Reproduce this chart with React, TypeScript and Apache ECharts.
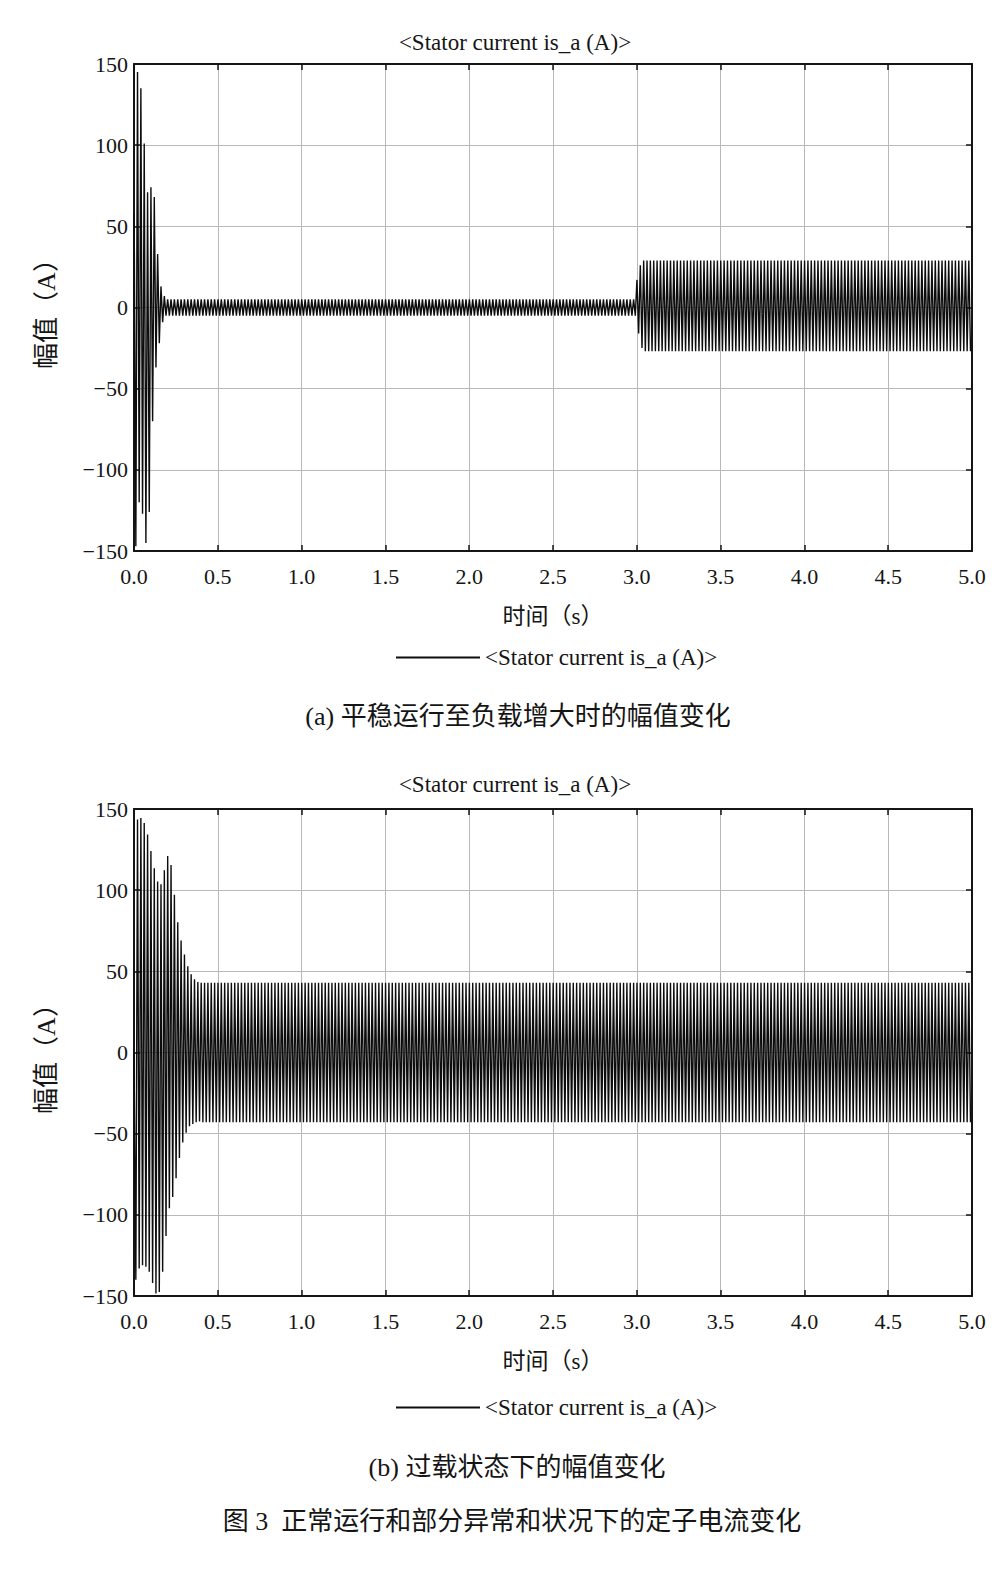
import React, { useEffect, useRef } from 'react';
import * as echarts from 'echarts';

// ---------------- data ----------------
const seriesName = '<Stator current is_a (A)>';
const chartTitle = '<Stator current is_a (A)>';
const xAxisName = '时间（s）';
const yAxisName = '幅值（A）';
const captionA = '(a) 平稳运行至负载增大时的幅值变化';
const captionB = '(b) 过载状态下的幅值变化';
const figureCaption = '图 3  正常运行和部分异常和状况下的定子电流变化';

const xRange = [0, 5];
const xStep = 0.5;
const yRange = [-150, 150];
const yStep = 50;

// time between successive extrema (50 Hz current -> 0.01 s between peak and trough)
const halfPeriod = 0.01;

// (a) start-up transient: successive extrema (A), first one at transientAStart (s)
const transientAStart = 0.001;
const transientA = [58, -147, 145, -120, 135, -127, 101, -145, 71, -126, 74, -70, 68, -37, 33, -22, 13, -9, 7];
// (a) steady no-load level until the load step
const steadyA1 = { until: 3.0, peak: 5, trough: -5 };
// (a) load step at 3.0 s: first extrema after the step
const stepA = [17, -16, 26, -25];
// (a) steady loaded level
const steadyA2 = { until: 5.0, peak: 29, trough: -27 };

// (b) overload start-up transient: successive extrema (A)
const transientBStart = 0.011;
const transientB = [
  -140, 143.5, -133, 144.5, -131, 141.4, -132, 134.3, -135, 124.1, -142, 113.5, -148.5, 105.3,
  -147.5, 103.7, -135, 112.2, -113, 121, -96, 115.5, -89, 97.1, -77.5, 80.2, -65, 69, -55.5, 60.4,
  -49.5, 53.1, -45.5, 48.2, -44, 45.1, -43, 43.5, -42.5, 43,
];
const steadyB = { until: 5.0, peak: 43, trough: -43 };

// ---------------- build the line data from the arrays ----------------
type Level = { until: number; peak: number; trough: number };
function buildWave(start: number, parts: (number[] | Level)[]): number[][] {
  const pts: number[][] = [[0, 0]];
  let i = 0;
  let lastPositive = false;
  const tAt = (k: number) => +(start + k * halfPeriod).toFixed(4);
  for (const part of parts) {
    if (Array.isArray(part)) {
      for (const v of part) {
        pts.push([tAt(i), v]);
        lastPositive = v > 0;
        i++;
      }
    } else {
      while (tAt(i) <= part.until) {
        const v = lastPositive ? part.trough : part.peak;
        pts.push([tAt(i), v]);
        lastPositive = !lastPositive;
        i++;
      }
    }
  }
  return pts;
}

const waveA = buildWave(transientAStart, [transientA, steadyA1, stepA, steadyA2]);
const waveB = buildWave(transientBStart, [transientB, steadyB]);

// ---------------- styles ----------------
const serif = '"Liberation Serif", "Times New Roman", serif';
const mixed = '"Liberation Serif", "Noto Sans CJK SC", serif';
const ink = '#151515';
const waveColor = '#0d0d0d';

function axesFor(gridIndex: number) {
  const frame = { show: true, onZero: false, lineStyle: { color: ink, width: 2 } };
  const tick = { show: true, inside: true, length: 6, lineStyle: { color: ink, width: 1.5 } };
  const xs = [
    {
      type: 'value', gridIndex, min: xRange[0], max: xRange[1], interval: xStep, position: 'bottom',
      axisLine: frame, axisTick: tick,
      axisLabel: { formatter: (v: number) => v.toFixed(1), fontFamily: serif, fontSize: 22, color: ink, margin: 14 },
      splitLine: { show: true, lineStyle: { color: '#b8b8b8', width: 1 } },
      name: xAxisName, nameLocation: 'middle', nameGap: 54,
      nameTextStyle: { fontFamily: mixed, fontSize: 23, color: ink },
    },
    {
      type: 'value', gridIndex, min: xRange[0], max: xRange[1], interval: xStep, position: 'top',
      axisLine: frame, axisTick: tick, axisLabel: { show: false }, splitLine: { show: false },
    },
  ];
  const ys = [
    {
      type: 'value', gridIndex, min: yRange[0], max: yRange[1], interval: yStep, position: 'left',
      axisLine: frame, axisTick: tick,
      axisLabel: {
        formatter: (v: number) => (v < 0 ? '\u2212' + Math.abs(v) : String(v)),
        fontFamily: serif, fontSize: 22, color: ink, margin: 6,
      },
      splitLine: { show: true, lineStyle: { color: '#b8b8b8', width: 1 } },
      name: yAxisName, nameLocation: 'middle', nameGap: 75,
      nameTextStyle: { fontFamily: mixed, fontSize: 26, color: ink },
    },
    {
      type: 'value', gridIndex, min: yRange[0], max: yRange[1], interval: yStep, position: 'right',
      axisLine: frame, axisTick: tick, axisLabel: { show: false }, splitLine: { show: false },
    },
  ];
  return { xs, ys };
}

const axA = axesFor(0);
const axB = axesFor(1);

const titleStyle = { fontFamily: serif, fontSize: 23, fontWeight: 'normal', color: ink };
const legendText = { fontFamily: serif, fontSize: 23, color: ink };

const option: any = {
  animation: false,
  backgroundColor: '#ffffff',
  title: [
    { text: chartTitle, left: 510, top: 26, textAlign: 'center', textStyle: titleStyle },
    { text: chartTitle, left: 510, top: 768, textAlign: 'center', textStyle: titleStyle },
  ],
  grid: [
    { left: 134, right: 28, top: 64, height: 487 },
    { left: 134, right: 28, top: 809, height: 487 },
  ],
  xAxis: [...axA.xs, ...axB.xs],
  yAxis: [...axA.ys, ...axB.ys],
  legend: [
    {
      left: 391, top: 641, itemWidth: 84, itemHeight: 2,
      data: [{ name: seriesName, icon: 'rect' }],
      textStyle: legendText, selectedMode: false,
    },
    {
      left: 391, top: 1391, itemWidth: 84, itemHeight: 2,
      data: [{ name: seriesName, icon: 'rect' }],
      textStyle: legendText, selectedMode: false,
    },
  ],
  series: [
    {
      name: seriesName, type: 'line', xAxisIndex: 0, yAxisIndex: 0, data: waveA,
      showSymbol: false, symbol: 'none', color: waveColor,
      lineStyle: { color: waveColor, width: 1.4 },
    },
    {
      name: seriesName, type: 'line', xAxisIndex: 2, yAxisIndex: 2, data: waveB,
      showSymbol: false, symbol: 'none', color: waveColor,
      lineStyle: { color: waveColor, width: 1.4 },
    },
  ],
  graphic: [
    { type: 'text', x: 518, y: 716, style: { text: captionA, font: `26px ${mixed}`, fill: ink, textAlign: 'center', textVerticalAlign: 'middle' } },
    { type: 'text', x: 517, y: 1467, style: { text: captionB, font: `26px ${mixed}`, fill: ink, textAlign: 'center', textVerticalAlign: 'middle' } },
    { type: 'text', x: 512, y: 1521, style: { text: figureCaption, font: `26px ${mixed}`, fill: ink, textAlign: 'center', textVerticalAlign: 'middle' } },
  ],
};

export default function App() {
  const ref = useRef<HTMLDivElement>(null);
  useEffect(() => {
    if (!ref.current) return;
    const chart = echarts.init(ref.current, null, { renderer: 'svg' });
    chart.setOption(option);
    return () => chart.dispose();
  }, []);
  return (
    <div
      ref={ref}
      style={{ position: 'absolute', left: 0, top: 0, width: 1000, height: 1590, background: '#fff' }}
    />
  );
}
